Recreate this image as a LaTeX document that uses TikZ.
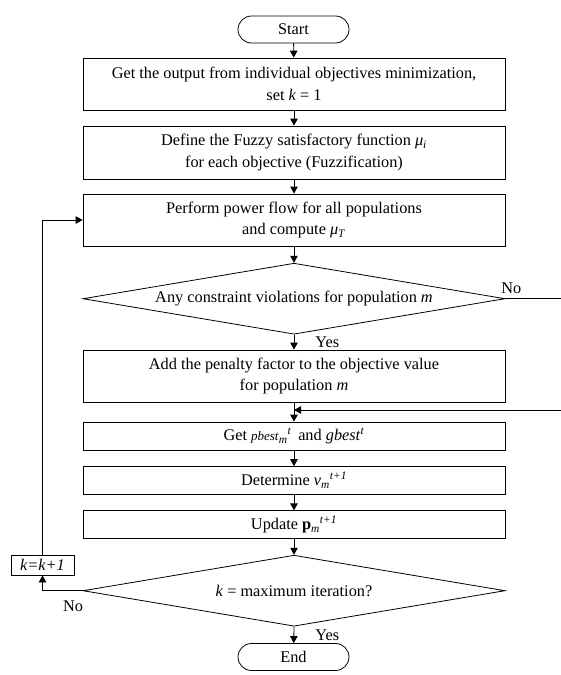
\documentclass[tikz,border=0pt]{standalone}
\usepackage{fontspec}
\setmainfont{Liberation Serif}
\usetikzlibrary{arrows.meta,shapes.geometric}
\begin{document}
\begin{tikzpicture}[x=1pt,y=-1pt,
  font=\fontsize{16.3}{21.5}\selectfont,
  line width=0.8pt,
  >={Triangle[length=7pt,width=7.5pt]},
  box/.style={draw, minimum width=422pt, inner sep=0pt, align=center},
  term/.style={draw, rounded corners=13.5pt, minimum width=111pt, minimum height=27pt, inner sep=0pt},
  dia/.style={draw, diamond, minimum width=422pt, minimum height=71pt, inner sep=0pt},
  lbl/.style={inner sep=0pt}
]
\useasboundingbox (0,0) rectangle (561,675);
\node[term] (start) at (293.5,29.5) {Start};
\node[box, minimum height=52pt] (b1) at (294,84) {Get the output from individual objectives minimization,\\ set \textit{k} = 1};
\node[box, minimum height=53pt] (b2) at (294,152.5) {Define the Fuzzy satisfactory function \textit{μ}\textsubscript{\textit{i}}\\ for each objective (Fuzzification)};
\node[box, minimum height=52pt] (b3) at (294,220) {Perform power flow for all populations\\ and compute \textit{μ}\textsubscript{\textit{T}}};
\node[dia] (d1) at (294,298.7) {};
\node[lbl] (d1t) at (d1.center) {Any constraint violations for population \textit{m}};
\node[box, minimum height=52pt] (b4) at (294,376) {Add the penalty factor to the objective value\\ for population \textit{m}};
\node[box, minimum height=28pt] (b5) at (294,436) {Get {\fontsize{13}{15}\selectfont\textit{pbest}}\textsubscript{\textit{m}}\textsuperscript{\textit{t}}\, and \textit{gbest}\textsuperscript{\textit{t}}};
\node[box, minimum height=27.5pt] (b6) at (294,480.3) {Determine \textit{v}\textsubscript{\textit{m}}\textsuperscript{\textit{t+1}}};
\node[box, minimum height=27.5pt] (b7) at (294,524.5) {Update \textbf{p}\textsubscript{\textit{m}}\textsuperscript{\textit{t+1}}};
\node[dia] (d2) at (294,590.7) {};
\node[lbl] (d2t) at (d2.center) {\textit{k} = maximum iteration?};
\node[term] (end) at (293.5,657) {End};
\node[draw, minimum width=63pt, minimum height=19.5pt, inner sep=0pt] (kb) at (42.5,565.3) {\textit{k=k+1}};

\draw[->] (start) -- (b1);
\draw[->] (b1) -- (b2);
\draw[->] (b2) -- (b3);
\draw[->] (b3) -- (d1.north);
\draw[->] (d1.south) -- (b4);
\draw[->] (b4) -- (b5);
\draw[->] (b5) -- (b6);
\draw[->] (b6) -- (b7);
\draw[->] (b7) -- (d2.north);
\draw[->] (d2.south) -- (end);

\coordinate (noR) at (561,298.7);
\draw (d1.east) -- (noR);
\coordinate (fbR) at (561,410);
\draw[->] (fbR) -- (fbR -| b4.south);

\draw[->] (d2.west) -| (kb.south);
\draw[->] (kb.north) |- (b3.west);

\node[lbl, anchor=base] (no1) at ([xshift=6pt,yshift=5pt]d1.east) {No};
\node[lbl, anchor=base west] (yes1) at ([xshift=21pt,yshift=-12.5pt]d1.south) {Yes};
\node[lbl, anchor=base west] (yes2) at ([xshift=21pt,yshift=-14pt]d2.south) {Yes};
\node[lbl, anchor=base west] (no2) at ([xshift=-20pt,yshift=-21pt]d2.west) {No};
\end{tikzpicture}
\end{document}
